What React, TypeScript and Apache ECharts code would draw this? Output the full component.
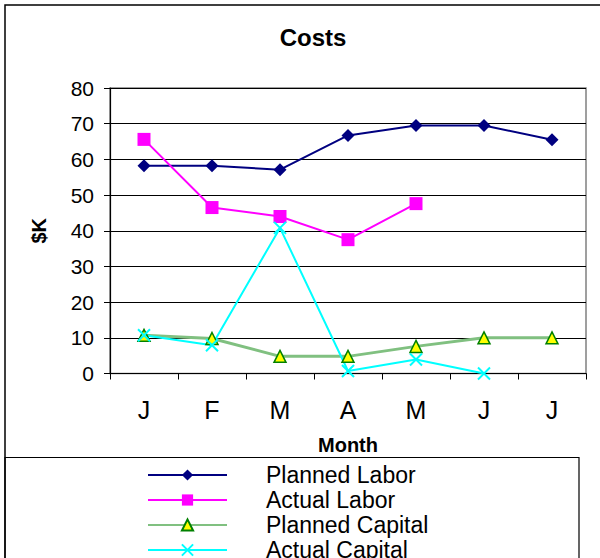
import React, { useEffect, useRef } from "react";
import * as echarts from "echarts";

const months = ["J", "F", "M", "A", "M", "J", "J"];
const plannedLabor = [58.2, 58.2, 57.1, 66.7, 69.5, 69.5, 65.5];
const actualLabor = [65.6, 46.5, 44.0, 37.5, 47.6, null, null];
const plannedCapital = [10.7, 9.8, 4.8, 4.8, 7.6, 10, 10];
const actualCapital = [10.7, 7.9, 40.8, 0.7, 3.9, 0, null];
const yTicks = { min: 0, max: 80, interval: 10 };

const FONT = "'Liberation Sans', Arial, sans-serif";
const CHART_H = 640;

export default function App() {
  const ref = useRef<HTMLDivElement>(null);
  useEffect(() => {
    if (!ref.current) return;
    const chart = echarts.init(ref.current, null, { renderer: "svg" });
    chart.setOption({
      animation: false,
      backgroundColor: "#fff",
      textStyle: { fontFamily: FONT },
      title: {
        text: "Costs",
        left: 308,
        top: 20,
        textAlign: "center",
        textStyle: { fontFamily: FONT, fontSize: 24, fontWeight: "bold", color: "#000" },
      },
      grid: {
        left: 110,
        right: 14,
        top: 88,
        bottom: CHART_H - 373.5,
        show: true,
        borderColor: "#808080",
        borderWidth: 1.5,
      },
      xAxis: {
        type: "category",
        data: months,
        boundaryGap: true,
        name: "Month",
        nameLocation: "middle",
        nameGap: 61,
        nameTextStyle: { fontFamily: FONT, fontSize: 20, fontWeight: "bold", color: "#000" },
        axisLine: { lineStyle: { color: "#000", width: 1.2 } },
        axisTick: { show: true, length: 6, alignWithLabel: false, lineStyle: { color: "#000" } },
        axisLabel: { fontFamily: FONT, fontSize: 25, color: "#000", margin: 24 },
        splitLine: { show: false },
      },
      yAxis: {
        type: "value",
        min: yTicks.min,
        max: yTicks.max,
        interval: yTicks.interval,
        name: "$K",
        nameLocation: "middle",
        nameRotate: 90,
        nameGap: 61,
        nameTextStyle: { fontFamily: FONT, fontSize: 20, fontWeight: "bold", color: "#000" },
        axisLine: { show: true, lineStyle: { color: "#000", width: 1.2 } },
        axisTick: { show: true, length: 6, lineStyle: { color: "#000" } },
        axisLabel: { fontFamily: FONT, fontSize: 21, color: "#000", margin: 16 },
        splitLine: { show: true, lineStyle: { color: "#000", width: 1 } },
      },
      legend: {
        orient: "vertical",
        left: 147,
        top: 463,
        padding: 0,
        itemWidth: 79,
        itemHeight: 14,
        itemGap: 1,
        textStyle: {
          fontFamily: FONT,
          fontSize: 23,
          color: "#000",
          lineHeight: 24,
          padding: [0, 0, 0, 34],
        },
        data: ["Planned Labor", "Actual Labor", "Planned Capital", "Actual Capital"],
      },
      graphic: [
        {
          type: "rect",
          shape: { x: 5, y: 5, width: 700, height: 700 },
          style: { fill: "none", stroke: "#000", lineWidth: 1.5 },
          silent: true,
        },
        {
          type: "rect",
          shape: { x: 5, y: 457.5, width: 574, height: 200 },
          style: { fill: "none", stroke: "#000", lineWidth: 1.2 },
          silent: true,
        },
      ],
      series: [
        {
          name: "Planned Labor",
          type: "line",
          data: plannedLabor,
          symbol: "diamond",
          symbolSize: 13,
          lineStyle: { color: "#000080", width: 2 },
          itemStyle: { color: "#000080" },
        },
        {
          name: "Actual Labor",
          type: "line",
          data: actualLabor,
          symbol: "rect",
          symbolSize: 13,
          lineStyle: { color: "#FF00FF", width: 2 },
          itemStyle: { color: "#FF00FF" },
        },
        {
          name: "Planned Capital",
          type: "line",
          data: plannedCapital,
          symbol: "triangle",
          symbolSize: 12,
          lineStyle: { color: "#80C080", width: 3 },
          itemStyle: { color: "#FFFF00", borderColor: "#008000", borderWidth: 1.5 },
        },
        {
          name: "Actual Capital",
          type: "line",
          data: actualCapital,
          symbol: "path://M0,0L10,10M10,0L0,10",
          symbolSize: 12,
          lineStyle: { color: "#00FFFF", width: 2 },
          itemStyle: { color: "none", borderColor: "#00FFFF", borderWidth: 2 },
        },
      ],
    });
    return () => chart.dispose();
  }, []);
  return (
    <div
      ref={ref}
      style={{ position: "fixed", left: 0, top: 0, width: 600, height: CHART_H }}
    />
  );
}
